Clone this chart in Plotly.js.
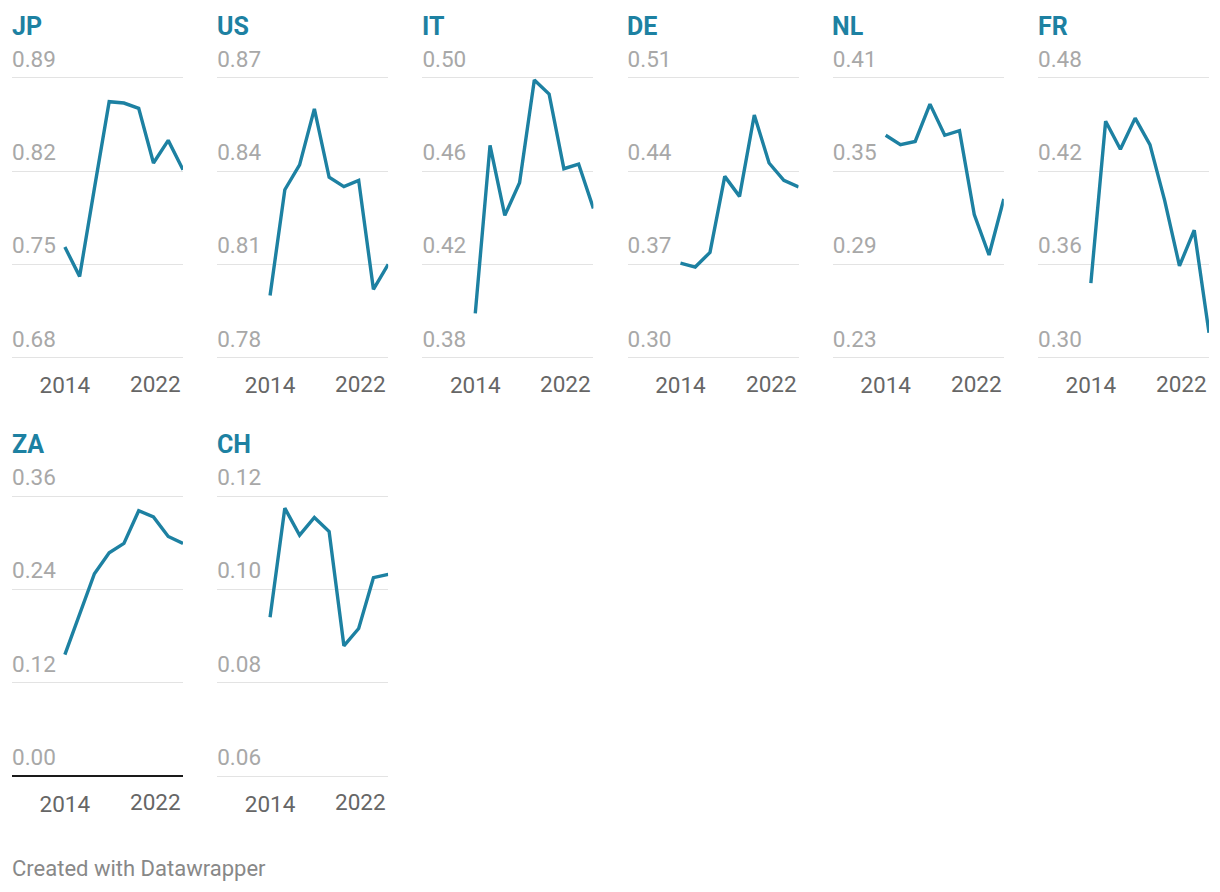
<!DOCTYPE html>
<html>
<head>
<meta charset="utf-8">
<script src="https://cdn.plot.ly/plotly-3.0.1.min.js"></script>
<style>
  html, body { margin: 0; padding: 0; background: #ffffff; }
  #chart { width: 1220px; height: 892px; }
</style>
</head>
<body>
<div id="chart"></div>
<script>
// ---- Data ----
const years = [2014, 2015, 2016, 2017, 2018, 2019, 2020, 2021, 2022];
const countries = ["JP", "US", "IT", "DE", "NL", "FR", "ZA", "CH"];

const jp = [0.763, 0.741, 0.807, 0.872, 0.871, 0.867, 0.826, 0.843, 0.821];
const us = [0.800, 0.834, 0.842, 0.860, 0.838, 0.835, 0.837, 0.802, 0.810];
const it = [0.399, 0.471, 0.441, 0.455, 0.499, 0.493, 0.461, 0.463, 0.444];
const de = [0.371, 0.368, 0.379, 0.436, 0.421, 0.482, 0.446, 0.433, 0.428];
const nl = [0.373, 0.367, 0.369, 0.393, 0.373, 0.376, 0.322, 0.296, 0.332];
const fr = [0.348, 0.452, 0.434, 0.454, 0.437, 0.401, 0.359, 0.382, 0.316];
const za = [0.156, 0.209, 0.260, 0.287, 0.299, 0.341, 0.333, 0.308, 0.299];
const ch = [0.094, 0.1174, 0.1116, 0.1154, 0.1124, 0.0879, 0.0916, 0.1025, 0.1032];

const jpTicks = [0.68, 0.75, 0.82, 0.89];
const usTicks = [0.78, 0.81, 0.84, 0.87];
const itTicks = [0.38, 0.42, 0.46, 0.50];
const deTicks = [0.30, 0.37, 0.44, 0.51];
const nlTicks = [0.23, 0.29, 0.35, 0.41];
const frTicks = [0.30, 0.36, 0.42, 0.48];
const zaTicks = [0.00, 0.12, 0.24, 0.36];
const chTicks = [0.06, 0.08, 0.10, 0.12];

const xTickLabels = ["2014", "2022"];

const seriesList = [jp, us, it, de, nl, fr, za, ch];
const tickList = [jpTicks, usTicks, itTicks, deTicks, nlTicks, frTicks, zaTicks, chTicks];

// ---- Layout constants ----
const W = 1220, H = 892;
const LINE = "#1d81a2";
const colLeft0 = 12, colStep = 205.2, colWidth = 171;
// pixel rows of the top and bottom gridlines
const rows = [{ top: 77.7, bottom: 357.7 }, { top: 496, bottom: 776 }];
const PAD_TOP = 36, PAD_BOT = 2;   // px of room above/below the outer gridlines
const xRange = [2010.42, 2022];
const FS = 22.5;

const traces = [];
const layout = {
  width: W, height: H,
  margin: { l: 0, r: 0, t: 0, b: 0 },
  paper_bgcolor: "#ffffff",
  plot_bgcolor: "rgba(0,0,0,0)",
  showlegend: false,
  font: { family: "Roboto, 'Noto Sans', sans-serif", color: "#333" },
  annotations: []
};

countries.forEach((c, i) => {
  const row = Math.floor(i / 6), col = i % 6;
  const left = colLeft0 + colStep * col;
  const r = rows[row];
  const sfx = i === 0 ? "" : String(i + 1);
  const ticks = tickList[i];
  const lo = ticks[0], hi = ticks[ticks.length - 1];
  const perPx = (hi - lo) / (r.bottom - r.top);

  traces.push({
    type: "scatter", mode: "lines",
    x: years, y: seriesList[i],
    xaxis: "x" + sfx, yaxis: "y" + sfx,
    line: { color: LINE, width: 3.4 },
    hoverinfo: "skip"
  });

  layout["xaxis" + sfx] = {
    domain: [left / W, (left + colWidth) / W],
    anchor: "y" + sfx,
    range: xRange,
    showgrid: false, zeroline: false, showline: false,
    tickmode: "array", tickvals: [2014], ticktext: [xTickLabels[0]],
    ticks: "", ticklen: 0,
    ticklabelstandoff: 10,
    tickfont: { family: "Roboto", size: FS, color: "#666666" },
    fixedrange: true
  };
  layout["yaxis" + sfx] = {
    domain: [1 - (r.bottom + PAD_BOT) / H, 1 - (r.top - PAD_TOP) / H],
    anchor: "x" + sfx,
    range: [lo - perPx * PAD_BOT, hi + perPx * PAD_TOP],
    tickmode: "array", tickvals: ticks,
    ticktext: ticks.map(v => v.toFixed(2)),
    ticklabelposition: "inside top",
    ticklabelshift: -3,
    ticklabelstandoff: -3,
    ticks: "",
    showgrid: true, gridcolor: "#e3e3e3", gridwidth: 1,
    zeroline: lo === 0, zerolinecolor: "#1a1a1a", zerolinewidth: 2,
    showline: false,
    tickfont: { family: "Roboto", size: FS, color: "#a8a8a8" },
    fixedrange: true
  };

  // panel title
  layout.annotations.push({
    xref: "paper", yref: "paper",
    x: (left - 2.5) / W, y: 1 - (r.top - 51.5) / H,
    xanchor: "left", yanchor: "middle",
    text: "<b>" + c + "</b>", showarrow: false,
    font: { family: "Roboto", size: 25, color: LINE }
  });
  // last year label (right aligned to last point)
  layout.annotations.push({
    xref: "x" + sfx, yref: "paper",
    x: 2022, y: 1 - (r.bottom + 26) / H,
    xanchor: "right", yanchor: "middle",
    text: xTickLabels[1], showarrow: false,
    font: { family: "Roboto", size: FS, color: "#666666" }
  });
});

layout.annotations.push({
  xref: "paper", yref: "paper",
  x: 10 / W, y: 1 - 868 / H,
  xanchor: "left", yanchor: "middle",
  text: "Created with Datawrapper", showarrow: false,
  font: { family: "Roboto", size: 22, color: "#888888" }
});

Plotly.newPlot("chart", traces, layout, { staticPlot: true, displayModeBar: false });
</script>
</body>
</html>
